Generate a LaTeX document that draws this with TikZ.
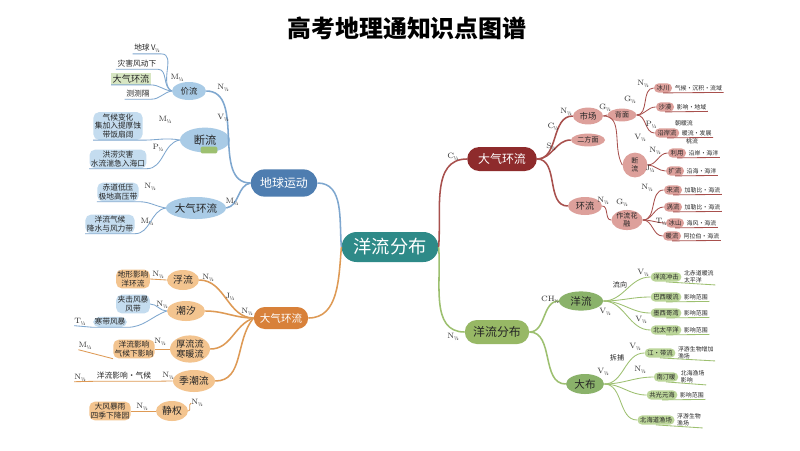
\documentclass[tikz,border=0pt]{standalone}
\usepackage{fontspec}
\newfontfamily\cjk{Noto Sans CJK SC}
\usepackage{tikz}
\usetikzlibrary{arrows.meta, positioning, shapes.geometric, shapes.misc}

\definecolor{tealc}{HTML}{2E8A88}
\definecolor{bl1}{HTML}{4E7DB0}
\definecolor{bl2}{HTML}{A9CBE6}
\definecolor{bl3}{HTML}{7EA7CF}
\definecolor{bl4}{HTML}{C4DCEF}
\definecolor{or1}{HTML}{D8813A}
\definecolor{or2}{HTML}{F3C48F}
\definecolor{or3}{HTML}{DE9A55}
\definecolor{rd1}{HTML}{8E2B2C}
\definecolor{rd2}{HTML}{A8504D}
\definecolor{rd3}{HTML}{DDA09B}
\definecolor{gr1}{HTML}{97B865}
\definecolor{gr2}{HTML}{8AB26A}
\definecolor{gr3}{HTML}{9DC070}
\definecolor{gr4}{HTML}{BCD69A}

\newcommand{\hs}[1]{#1\kern-0.2pt\raisebox{-0.45ex}{\cjk\fontsize{3.6}{4}\selectfont ½}}

\begin{document}
\begin{tikzpicture}[
  x=0.025cm, y=-0.025cm,
  root/.style={rounded rectangle, fill=tealc, text=white, font=\cjk\fontsize{13}{15}\selectfont, minimum width=2.65cm, minimum height=0.75cm},
  topic/.style={rounded rectangle, font=\cjk\fontsize{8.5}{10}\selectfont, minimum height=0.6cm, inner sep=2pt},
  sub/.style={ellipse, font=\cjk\fontsize{7}{8}\selectfont, inner sep=0pt, align=center, text=black!85},
  leaf/.style={font=\cjk\fontsize{5.5}{6.5}\selectfont, inner sep=1pt, align=center, text=black!85},
  blob/.style={leaf, font=\cjk\fontsize{5.5}{6.3}\selectfont, rounded corners=4pt},
  pill/.style={rounded rectangle, font=\cjk\fontsize{4.5}{5}\selectfont, inner sep=1.2pt, text=black!85},
  note/.style={font=\cjk\fontsize{4.2}{5}\selectfont, inner sep=1pt, align=left, text=black!85},
  tag/.style={font=\fontsize{5.5}{6}\selectfont, inner sep=0pt, text=black!80},
  wire/.style={line width=1.1pt, #1},
  twig/.style={line width=0.6pt, #1}
]
\fill[white] (0,0) rectangle (800,450);
\useasboundingbox (0,0) rectangle (800,450);

\node[font=\cjk\bfseries\fontsize{17}{20}\selectfont] (title) at (407,28) {高考地理通知识点图谱};

\node[root] (root) at (390,247) {洋流分布};
\node[topic, fill=bl1, text=white, minimum width=1.8cm, minimum height=0.68cm] (earth) at (284,183) {地球运动};
\node[topic, fill=or1, text=white, minimum width=1.5cm, minimum height=0.55cm, font=\cjk\fontsize{7.5}{9}\selectfont] (atmL) at (281,318) {大气环流};
\node[topic, fill=rd1, text=white, minimum width=1.88cm] (atmR) at (502,159) {大气环流};
\node[topic, fill=gr1, text=black!85, minimum width=1.75cm] (ocean) at (497,332) {洋流分布};

\draw[wire=bl3] (earth.east) to[out=0,in=95] (root.west);
\draw[wire=or3] (root.west) to[out=265,in=0] (atmL.east);
\draw[wire=rd2] (root.east) to[out=85,in=180] (atmR.west);
\draw[wire=gr3] (root.east) to[out=275,in=180] (ocean.west);

% blue
\node[sub, fill=bl2, minimum width=0.85cm, minimum height=0.45cm, font=\cjk\fontsize{6}{7}\selectfont] (jia) at (189,91) {价流};
\node[sub, fill=bl2, minimum width=1.25cm, minimum height=0.62cm, font=\cjk\fontsize{8}{9}\selectfont] (duan) at (205,140) {断流};
\node[fill=gr3, rounded corners=1pt, minimum width=0.42cm, minimum height=0.17cm, inner sep=0pt] (sprout) at (209,150) {};
\node[sub, fill=bl2, minimum width=1.5cm, minimum height=0.55cm, font=\cjk\fontsize{7.5}{9}\selectfont] (atmB) at (196,208) {大气环流};
\draw[wire=bl3] (earth.west) to[out=180,in=0] (jia.east);
\draw[wire=bl3] (earth.west) to[out=190,in=10] (atmB.east);

\node[leaf] (b1) at (147,48) {地球\,\hs{V}};
\node[leaf] (b2) at (137,64) {灾害风动下};
\node[leaf, fill=gr4!60, font=\cjk\fontsize{6.5}{7}\selectfont] (b3) at (131,79) {大气环流};
\node[leaf] (b4) at (138,94) {测测隔};
\node[blob, fill=bl4] (b5) at (118,126) {气候变化\\集加入提厚蚀\\带饭扇阔};
\node[blob, fill=bl4] (b6) at (118,159) {洪涝灾害\\水流湍急入海口};
\node[blob, fill=bl4] (b7) at (118,192) {赤道低压\\极地高压带};
\node[blob, fill=bl4] (b8) at (110,224) {洋流气候\\降水与风力带};
\draw[twig=bl3] (jia.west) to[out=150,in=0] (b1.south east) -- (b1.south west);
\draw[twig=bl3] (jia.west) to[out=160,in=0] (b2.south east) -- (b2.south west);
\draw[twig=bl3] (jia.west) to[out=175,in=0] (b3.south east) -- (b3.south west);
\draw[twig=bl3] (jia.west) to[out=190,in=0] (b4.south east) -- (b4.south west);
\draw[twig=bl3] (duan.west) to[out=170,in=0] (b5.south east) -- (b5.south west);
\draw[twig=bl3] (duan.west) to[out=190,in=0] (b6.south east) -- (b6.south west);
\draw[twig=bl3] (atmB.west) to[out=170,in=0] (b7.south east) -- (b7.south west);
\draw[twig=bl3] (atmB.west) to[out=190,in=0] (b8.south east) -- (b8.south west);
\node[tag] (tb1) at (177,78) {\hs{M}};
\node[tag] (tb2) at (223,88) {\hs{N}};
\node[tag] (tb3) at (223,118) {\hs{V}};
\node[tag] (tb4) at (165,120) {\hs{M}};
\node[tag] (tb5) at (158,148) {\hs{P}};
\node[tag] (tb6) at (150,187) {\hs{N}};
\node[tag] (tb7) at (147,222) {\hs{M}};
\node[tag] (tb8) at (232,202) {\hs{M}};

% orange
\node[sub, fill=or2, minimum width=0.8cm, minimum height=0.5cm] (fu) at (183,280) {浮流};
\node[sub, fill=or2, minimum width=0.95cm, minimum height=0.5cm] (chao) at (186,311) {潮汐};
\node[sub, fill=or2, minimum width=1.0cm, minimum height=0.68cm, font=\cjk\fontsize{6.5}{7.5}\selectfont] (hanl) at (190,349) {厚流流\\寒暖流};
\node[sub, fill=or2, minimum width=1.05cm, minimum height=0.55cm] (jil) at (194,381) {季潮流};
\node[sub, fill=or2, minimum width=0.8cm, minimum height=0.5cm] (jing) at (172,411) {静权};
\draw[wire=or3] (atmL.west) to[out=180,in=0] (fu.east);
\draw[wire=or3] (atmL.west) to[out=180,in=0] (chao.east);
\draw[wire=or3] (atmL.west) to[out=200,in=0] (hanl.east);
\draw[wire=or3] (atmL.west) to[out=230,in=0] (jil.east);

\node[tag] (to1) at (158,275) {\hs{N}};
\node[tag] (to2) at (208,278) {\hs{N}};
\node[tag] (to3) at (230,297) {\hs{J}};
\node[tag] (to4) at (247,312) {\hs{N}};
\node[tag] (to5) at (162,305) {\hs{N}};
\node[tag] (to6) at (80,322) {\hs{T}};
\node[tag] (to7) at (160,342) {\hs{N}};
\node[tag] (to8) at (85,346) {\hs{M}};
\node[tag] (to9) at (80,378) {\hs{N}};
\node[tag] (to10) at (168,376) {\hs{N}};
\node[tag] (to11) at (142,407) {\hs{N}};
\node[tag] (to12) at (197,403) {\hs{N}};
\node[blob, fill=or2] (o1) at (133,279) {地形影响\\洋环流};
\node[blob, fill=bl4] (o2) at (133,304) {夹击风暴\\风带};
\node[blob, fill=bl4] (o3) at (110,322) {寒带风暴};
\node[blob, fill=or2] (o4) at (134,349) {洋流影响\\气候下影响};
\node[leaf] (o5) at (124,376) {洋流影响·气候};
\node[blob, fill=or2] (o6) at (110,411) {大风暴雨\\四季下降园};
\draw[twig=or3] (fu.west) -- (o1.east);
\draw[twig=bl3] (chao.west) to[out=180,in=0] (o2.east);
\draw[twig=bl3] (chao.west) to[out=200,in=0] (o3.south east) -- (o3.south west) -- (to6.south west);
\draw[twig=or3] (hanl.west) -- (o4.east);
\draw[twig=or3] (o4.south west) -- (to8.south west);
\draw[twig=or3] (jil.west) to[out=180,in=0] (o5.south east) -- (o5.south west) -- (to9.south west);
\draw[twig=or3] (jing.west) -- (o6.east);
\draw[twig=or3] (jing.east) to[out=0,in=200] (to12.west);

% red
\node[sub, fill=rd3, minimum width=0.75cm, minimum height=0.42cm, font=\cjk\fontsize{6}{7}\selectfont] (mkt) at (588,116) {市场};
\node[sub, fill=rd3, minimum width=0.85cm, minimum height=0.32cm, font=\cjk\fontsize{5}{6}\selectfont] (one) at (588,140) {二方面};
\node[sub, fill=rd3, minimum width=0.85cm, minimum height=0.45cm, font=\cjk\fontsize{6.5}{7}\selectfont] (huan) at (585,206) {环流};
\node[sub, fill=rd3, minimum width=0.72cm, minimum height=0.32cm, font=\cjk\fontsize{5}{6}\selectfont] (back) at (622,115) {背面};
\node[sub, fill=rd3, minimum width=0.62cm, minimum height=0.62cm, font=\cjk\fontsize{5}{6}\selectfont] (brk) at (635,165) {断\\流};
\node[sub, fill=rd3, minimum width=0.78cm, minimum height=0.5cm, font=\cjk\fontsize{5}{5.5}\selectfont] (mix) at (627,220) {作流花\\融};
\draw[wire=rd2] (atmR.east) to[out=0,in=180] (mkt.west);
\draw[wire=rd2] (atmR.east) to[out=0,in=180] (one.west);
\draw[wire=rd2] (atmR.east) to[out=0,in=180] (huan.west);
\draw[twig=rd2] (mkt.east) -- (back.west);
\draw[twig=rd2] (mkt.east) to[out=0,in=120] (brk.west);
\draw[twig=rd2] (huan.east) to[out=0,in=180] (mix.west);

\node[pill, fill=rd3] (r1) at (663,88) {冰川};
\node[note, right=0.5pt of r1] (r1t) {气候·沉积·流域};
\node[pill, fill=rd3] (r2) at (665,107) {沙漠};
\node[note, right=0.5pt of r2] (r2t) {影响·地域};
\node[note] (rx1) at (684,123) {朝暖流};
\node[pill, fill=rd3] (r3) at (667,133) {沿岸流};
\node[note, right=0.5pt of r3] (r3t) {暖流·发展};
\node[note] (rx2) at (692,141) {桃流};
\node[pill, fill=rd3] (r4) at (677,153) {利用};
\node[note, right=0.5pt of r4] (r4t) {沿岸·海洋};
\node[pill, fill=rd3] (r5) at (675,171) {扩流};
\node[note, right=0.5pt of r5] (r5t) {沿海·海洋};
\node[pill, fill=rd3] (r6) at (673,190) {来流};
\node[note, right=0.5pt of r6] (r6t) {加勒比·海流};
\node[pill, fill=rd3] (r7) at (673,207) {涡流};
\node[note, right=0.5pt of r7] (r7t) {加勒比·海流};
\node[pill, fill=rd3] (r8) at (675,223) {冰山};
\node[note, right=0.5pt of r8] (r8t) {海风·海流};
\node[pill, fill=rd3] (r9) at (672,236) {暖流};
\node[note, right=0.5pt of r9] (r9t) {阿拉伯·海流};
\draw[twig=rd2] (back.east) to[out=0,in=180] (r1.west) (r1.south) -- (r1t.south east);
\draw[twig=rd2] (back.east) to[out=0,in=180] (r2.west) (r2.south) -- (r2t.south east);
\draw[twig=rd2] (back.east) to[out=0,in=180] (r3.west) (r3.south) -- (r3t.south east);
\draw[twig=rd2] (brk.east) to[out=0,in=180] (r4.west) (r4.south) -- (r4t.south east);
\draw[twig=rd2] (brk.east) to[out=0,in=180] (r5.west) (r5.south) -- (r5t.south east);
\draw[twig=rd2] (mix.east) to[out=0,in=180] (r6.west) (r6.south) -- (r6t.south east);
\draw[twig=rd2] (mix.east) to[out=0,in=180] (r7.west) (r7.south) -- (r7t.south east);
\draw[twig=rd2] (mix.east) to[out=0,in=180] (r8.west) (r8.south) -- (r8t.south east);
\draw[twig=rd2] (mix.east) to[out=0,in=180] (r9.west) (r9.south) -- (r9t.south east);
\node[tag] (tr1) at (453,157) {\hs{C}};
\node[tag] (tr2) at (553,127) {\hs{C}};
\node[tag] (tr3) at (551,147) {\hs{S}};
\node[tag] (tr4) at (566,112) {\hs{N}};
\node[tag] (tr5) at (605,108) {\hs{G}};
\node[tag] (tr6) at (630,100) {\hs{G}};
\node[tag] (tr7) at (643,84) {\hs{N}};
\node[tag] (tr8) at (651,125) {\hs{P}};
\node[tag] (tr9) at (640,138) {\hs{V}};
\node[tag] (tr10) at (655,151) {\hs{N}};
\node[tag] (tr11) at (650,169) {\hs{J}};
\node[tag] (tr12) at (603,201) {\hs{N}};
\node[tag] (tr13) at (622,203) {\hs{G}};
\node[tag] (tr14) at (647,188) {\hs{N}};
\node[tag] (tr15) at (661,222) {\hs{T}};

% green
\node[sub, fill=gr2, minimum width=1.1cm, minimum height=0.48cm, font=\cjk\fontsize{7.5}{9}\selectfont] (yl) at (581,301) {洋流};
\node[sub, fill=gr2, minimum width=0.95cm, minimum height=0.5cm, font=\cjk\fontsize{7.5}{9}\selectfont] (dab) at (585,384) {大布};
\draw[wire=gr3] (ocean.east) to[out=0,in=180] (yl.west);
\draw[wire=gr3] (ocean.east) to[out=0,in=180] (dab.west);

\node[pill, fill=gr4] (g1) at (666,277) {洋流冲击};
\node[note, right=0.5pt of g1] (g1t) {北赤道暖流\\太平洋};
\node[pill, fill=gr4] (g2) at (666,297) {巴西暖流};
\node[note, right=0.5pt of g2] (g2t) {影响范围};
\node[pill, fill=gr4] (g3) at (666,313) {墨西哥湾};
\node[note, right=0.5pt of g3] (g3t) {影响范围};
\node[pill, fill=gr4] (g4) at (666,330) {北太平洋};
\node[note, right=0.5pt of g4] (g4t) {影响范围};
\node[pill, fill=gr4] (g5) at (660,353) {江·带流};
\node[note, right=0.5pt of g5] (g5t) {浮游生物增加\\渔场};
\node[pill, fill=gr4] (g6) at (666,377) {南汀暖};
\node[note, right=0.5pt of g6] (g6t) {北海渔场\\影响};
\node[pill, fill=gr4] (g7) at (662,395) {共光元海};
\node[note, right=0.5pt of g7] (g7t) {影响范围};
\node[pill, fill=gr4] (g8) at (656,420) {北海道渔场};
\node[note, right=0.5pt of g8] (g8t) {浮游生物\\渔场};
\draw[twig=gr3] (yl.east) to[out=0,in=180] (g1.west) (g1.south) -- (g1t.south east);
\draw[twig=gr3] (yl.east) to[out=0,in=180] (g2.west) (g2.south) -- (g2t.south east);
\draw[twig=gr3] (yl.east) to[out=0,in=180] (g3.west) (g3.south) -- (g3t.south east);
\draw[twig=gr3] (yl.east) to[out=0,in=180] (g4.west) (g4.south) -- (g4t.south east);
\draw[twig=gr3] (dab.east) to[out=0,in=180] (g5.west) (g5.south) -- (g5t.south east);
\draw[twig=gr3] (dab.east) to[out=0,in=180] (g6.west) (g6.south) -- (g6t.south east);
\draw[twig=gr3] (dab.east) to[out=0,in=180] (g7.west) (g7.south) -- (g7t.south east);
\draw[twig=gr3] (dab.east) to[out=0,in=180] (g8.west) (g8.south) -- (g8t.south east);
\node[tag] (tg1) at (453,337) {\hs{N}};
\node[tag] (tg2) at (550,300) {\hs{CH}};
\node[leaf, font=\cjk\fontsize{5}{6}\selectfont] (tg3) at (620,285) {流向};
\node[tag] (tg4) at (643,273) {\hs{V}};
\node[tag] (tg5) at (605,312) {\hs{V}};
\node[tag] (tg6) at (641,320) {\hs{V}};
\node[tag] (tg7) at (603,372) {\hs{V}};
\node[leaf, font=\cjk\fontsize{5}{6}\selectfont] (tg8) at (617,358) {拆捕};
\node[tag] (tg9) at (635,347) {\hs{V}};
\node[tag] (tg10) at (640,370) {\hs{N}};
\end{tikzpicture}
\end{document}
